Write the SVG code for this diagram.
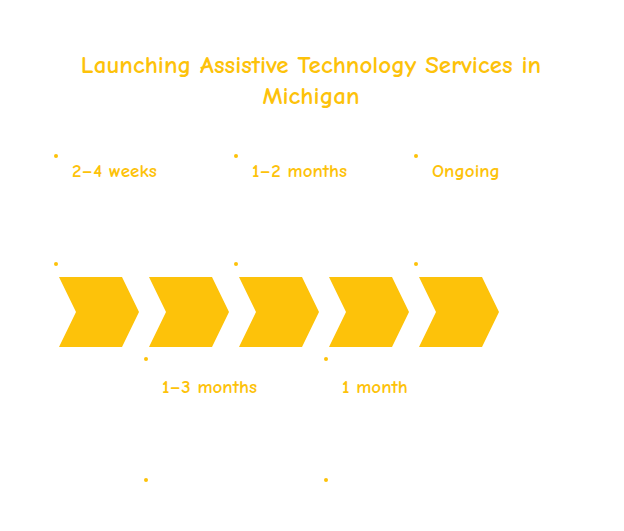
<svg xmlns="http://www.w3.org/2000/svg" width="624" height="531" viewBox="0 0 624 531">
<style>
text{font-family:"Comic Neue","Noto Sans","Liberation Sans",sans-serif;font-weight:bold;fill:#FDC20A}
.t{font-size:25px}.l{font-size:19px}
.c{fill:#FDC20A}
</style>
<defs><polygon id="ch" points="0,0 63,0 80,35 63,70 0,70 17,35"/></defs>
<rect width="624" height="531" fill="#fff"/>
<g id="title"><text class="t" x="311" y="73" text-anchor="middle">Launching Assistive Technology Services in</text><text class="t" x="311" y="104" text-anchor="middle">Michigan</text></g>
<g id="n1"><use href="#ch" class="c" x="59" y="277"/><circle class="c" cx="56" cy="156" r="2"/><circle class="c" cx="56" cy="264" r="2"/><text class="l" x="72" y="177">2–4 weeks</text></g>
<g id="n2"><use href="#ch" class="c" x="149" y="277"/><circle class="c" cx="146" cy="359" r="2"/><circle class="c" cx="146" cy="480" r="2"/><text class="l" x="162" y="393">1–3 months</text></g>
<g id="n3"><use href="#ch" class="c" x="239" y="277"/><circle class="c" cx="236" cy="156" r="2"/><circle class="c" cx="236" cy="264" r="2"/><text class="l" x="252" y="177">1–2 months</text></g>
<g id="n4"><use href="#ch" class="c" x="329" y="277"/><circle class="c" cx="326" cy="359" r="2"/><circle class="c" cx="326" cy="480" r="2"/><text class="l" x="342" y="393">1 month</text></g>
<g id="n5"><use href="#ch" class="c" x="419" y="277"/><circle class="c" cx="416" cy="156" r="2"/><circle class="c" cx="416" cy="264" r="2"/><text class="l" x="432" y="177">Ongoing</text></g>
<g id="connectors"/>
</svg>
